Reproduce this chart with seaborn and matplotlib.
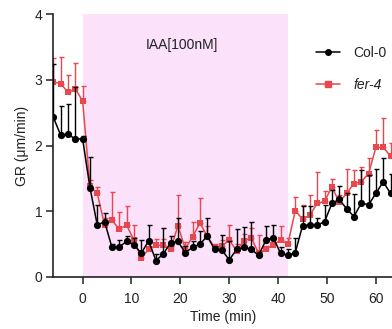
import numpy as np
import pandas as pd
import matplotlib
matplotlib.use("Agg")
import matplotlib.pyplot as plt
import seaborn as sns

time = [-6, -4.5, -3, -1.5, 0, 1.5, 3, 4.5, 6, 7.5, 9, 10.5, 12, 13.5, 15, 16.5,
        18, 19.5, 21, 22.5, 24, 25.5, 27, 28.5, 30, 31.5, 33, 34.5, 36, 37.5, 39,
        40.5, 42, 43.5, 45, 46.5, 48, 49.5, 51, 52.5, 54, 55.5, 57, 58.5, 60, 61.5, 63]

col0 = [2.43, 2.16, 2.17, 2.10, 2.10, 1.36, 0.79, 0.84, 0.45, 0.46, 0.54, 0.49,
        0.36, 0.55, 0.25, 0.35, 0.52, 0.54, 0.37, 0.45, 0.50, 0.62, 0.42, 0.41,
        0.26, 0.42, 0.45, 0.42, 0.33, 0.56, 0.60, 0.36, 0.33, 0.37, 0.78, 0.79,
        0.79, 0.84, 1.12, 1.18, 1.04, 0.92, 1.12, 1.10, 1.27, 1.45, 1.27]
col0_err = [0.81, 0.44, 0.46, 0.79, 0.05, 0.47, 0.31, 0.14, 0.05, 0.10, 0.08, 0.10,
            0.21, 0.24, 0.10, 0.39, 0.10, 0.35, 0.10, 0.10, 0.20, 0.27, 0.05, 0.23,
            0.28, 0.31, 0.31, 0.42, 0.05, 0.22, 0.19, 0.10, 0.10, 0.22, 0.30, 0.29,
            0.10, 0.26, 0.20, 0.21, 0.24, 0.34, 0.51, 0.45, 0.38, 0.36, 0.30]

fer4 = [2.97, 2.94, 2.81, 2.86, 2.68, 1.38, 1.27, 0.79, 0.86, 0.73, 0.79, 0.56,
        0.29, 0.42, 0.48, 0.48, 0.42, 0.78, 0.43, 0.61, 0.82, 0.62, 0.45, 0.47,
        0.56, 0.40, 0.55, 0.60, 0.36, 0.42, 0.49, 0.56, 0.50, 1.01, 0.88, 0.94,
        1.12, 1.15, 1.37, 1.14, 1.27, 1.42, 1.45, 1.57, 1.97, 1.97, 1.84]
fer4_err = [0.36, 0.40, 0.26, 0.39, 0.23, 0.10, 0.10, 0.10, 0.44, 0.26, 0.29, 0.23,
            0.05, 0.10, 0.10, 0.10, 0.05, 0.47, 0.10, 0.23, 0.38, 0.15, 0.05, 0.10,
            0.23, 0.10, 0.10, 0.15, 0.28, 0.05, 0.10, 0.22, 0.10, 0.21, 0.22, 0.31,
            0.47, 0.16, 0.12, 0.10, 0.38, 0.21, 0.23, 0.24, 0.26, 0.45, 0.20]

x_ticks = [0, 10, 20, 30, 40, 50, 60]
y_ticks = [0, 1, 2, 3, 4]
treat_start, treat_end = 0, 42
treat_label = "IAA[100nM]"

sns.set_style("ticks")
plt.rcParams['font.family'] = ['Liberation Sans', 'DejaVu Sans']

RED = "#E8474E"
BLACK = "#000000"

fig = plt.figure(figsize=(3.92, 3.29), dpi=100)
ax = fig.add_axes([53.3 / 392, (329 - 277) / 329, (392 - 53.3) / 392, 263 / 329])

ax.axvspan(treat_start, treat_end, ymin=0, ymax=1, color="#FBE1FA", lw=0, zorder=0)

df = pd.DataFrame({
    "time": time * 2,
    "GR": fer4 + col0,
    "line": ["fer-4"] * len(time) + ["Col-0"] * len(time),
})

# red first, black on top
ax.errorbar(time, fer4, yerr=[np.zeros(len(fer4)), fer4_err], fmt="none",
            ecolor=RED, elinewidth=1.0, capsize=1.8, capthick=1.0, zorder=2)
sns.lineplot(data=df[df.line == "fer-4"], x="time", y="GR", ax=ax, color=RED,
             marker="s", markersize=4.8, markeredgewidth=0, lw=1.1, zorder=3,
             label="fer-4", legend=False)
ax.errorbar(time, col0, yerr=[np.zeros(len(col0)), col0_err], fmt="none",
            ecolor=BLACK, elinewidth=1.0, capsize=1.8, capthick=1.0, zorder=4)
sns.lineplot(data=df[df.line == "Col-0"], x="time", y="GR", ax=ax, color=BLACK,
             marker="o", markersize=5.2, markeredgewidth=0, lw=1.1, zorder=5,
             label="Col-0", legend=False)

ax.set_xlim(-6, 63.3)
ax.set_ylim(0, 4)
ax.set_xticks(x_ticks)
ax.set_yticks(y_ticks)
ax.tick_params(axis="both", labelsize=10, length=5, width=1.1, colors="#222222",
               labelcolor="#222222")
ax.tick_params(axis="x", pad=6)
ax.tick_params(axis="y", pad=3)
for s in ["top", "right"]:
    ax.spines[s].set_visible(False)
for s in ["left", "bottom"]:
    ax.spines[s].set_linewidth(1.2)
    ax.spines[s].set_color("#222222")

ax.set_xlabel("Time (min)", fontsize=10, color="#222222", labelpad=3)
ax.set_ylabel("GR (μm/min)", fontsize=10, color="#222222", labelpad=4)

ax.text(20.3, 3.53, treat_label, fontsize=10, ha="center", va="center", color="#222222")

handles = [
    plt.Line2D([], [], color=BLACK, marker="o", markersize=4, lw=1.1),
    plt.Line2D([], [], color=RED, marker="s", markersize=4, lw=1.1),
]
leg = ax.legend(handles, ["Col-0", "fer-4"], loc="upper left",
                bbox_to_anchor=(0.755, 0.905), frameon=False, fontsize=10,
                handlelength=1.7, handletextpad=1.0, labelspacing=1.3, borderpad=0)
leg.get_texts()[1].set_fontstyle("italic")
for t in leg.get_texts():
    t.set_color("#222222")

fig.savefig("out.png", dpi=100)
